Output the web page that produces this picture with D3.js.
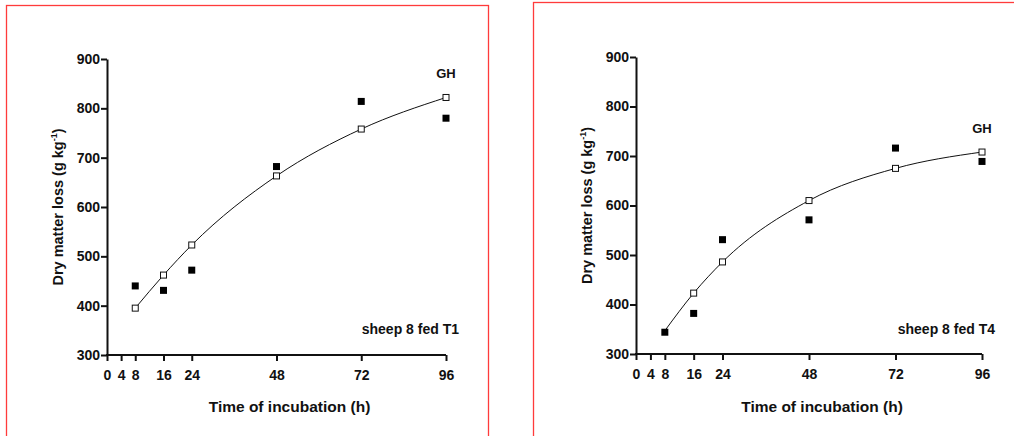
<!DOCTYPE html>
<html>
<head>
<meta charset="utf-8">
<script src="https://cdn.jsdelivr.net/npm/d3@7"></script>
<style>
  body { margin: 0; background: #fff; }
  svg { display: block; }
  text { font-family: "Liberation Sans", Arial, sans-serif; font-weight: bold; fill: #111; }
</style>
</head>
<body>
<svg id="chart" width="1014" height="436"></svg>
<script>
// incubation times (h)
const times = [8, 16, 24, 48, 72, 96];
const xTicks = [0, 4, 8, 16, 24, 48, 72, 96];
const yTicks = [300, 400, 500, 600, 700, 800, 900];

// sheep 8 fed T1
const t1Observed = [440, 431, 472, 682, 814, 780];
const t1Fitted = [395, 462, 523, 663, 758, 822];
// sheep 8 fed T4
const t4Observed = [344, 382, 531, 571, 716, 689];
const t4Fitted = [347, 423, 486, 610, 675, 708];

const panels = [
    { label: "sheep 8 fed T1", observed: t1Observed, fitted: t1Fitted,
      frame: [6, 5, 482], x0: 107, x1: 446, y0: 355, y1: 59 },
    { label: "sheep 8 fed T4", observed: t4Observed, fitted: t4Fitted,
      frame: [533, 2, 500], x0: 636, x1: 982, y0: 354, y1: 57 }
];

const svg = d3.select("#chart");

panels.forEach(p => {
    // red frame round each panel
    svg.append("rect")
        .attr("x", p.frame[0] + 0.5)
        .attr("y", p.frame[1] + 0.5)
        .attr("width", p.frame[2])
        .attr("height", 500)
        .attr("fill", "none")
        .attr("stroke", "#ff3b3b")
        .attr("stroke-width", 1.3);

    const x = d3.scaleLinear().domain([0, 96]).range([p.x0, p.x1]);
    const y = d3.scaleLinear().domain([300, 900]).range([p.y0, p.y1]);

    const g = svg.append("g");

    const xAxis = g.append("g")
        .attr("transform", "translate(0," + p.y0 + ")")
        .call(d3.axisBottom(x).tickValues(xTicks).tickSize(6).tickPadding(9).tickSizeOuter(0));
    const yAxis = g.append("g")
        .attr("transform", "translate(" + p.x0 + ",0)")
        .call(d3.axisLeft(y).tickValues(yTicks).tickSize(6).tickPadding(1).tickSizeOuter(0));

    [xAxis, yAxis].forEach(a => {
        a.select(".domain").attr("stroke", "#111").attr("stroke-width", 2);
        a.selectAll(".tick line").attr("stroke", "#111").attr("stroke-width", 2);
        a.selectAll(".tick text")
            .attr("font-size", 14)
            .attr("font-family", "Liberation Sans, Arial, sans-serif")
            .attr("font-weight", "bold")
            .attr("fill", "#111");
    });
    // extend the axis lines so they meet at the corner
    xAxis.select(".domain").attr("d", "M" + (p.x0 - 1) + ",0H" + p.x1);

    // fitted curve
    const line = d3.line()
        .x((d, i) => x(times[i]))
        .y(d => y(d))
        .curve(d3.curveMonotoneX);
    g.append("path")
        .datum(p.fitted)
        .attr("d", line)
        .attr("fill", "none")
        .attr("stroke", "#111")
        .attr("stroke-width", 1);

    // observed values (filled squares)
    g.selectAll(".obs")
        .data(p.observed)
        .enter().append("rect")
        .attr("x", (d, i) => x(times[i]) - 3.5)
        .attr("y", d => y(d) - 3.5)
        .attr("width", 7)
        .attr("height", 7)
        .attr("fill", "#000");

    // fitted values (open squares)
    g.selectAll(".fit")
        .data(p.fitted)
        .enter().append("rect")
        .attr("x", (d, i) => x(times[i]) - 3)
        .attr("y", d => y(d) - 3)
        .attr("width", 6)
        .attr("height", 6)
        .attr("fill", "#fff")
        .attr("stroke", "#111")
        .attr("stroke-width", 1)
        .style("display", (d, i) => (p === panels[1] && i === 0) ? "none" : null);

    // labels
    g.append("text")
        .attr("x", x(96))
        .attr("y", y(p.fitted[5]) - 19)
        .attr("text-anchor", "middle")
        .attr("font-size", 13)
        .text("GH");

    g.append("text")
        .attr("x", p.x1 + 13)
        .attr("y", 334)
        .attr("text-anchor", "end")
        .attr("font-size", 14)
        .text(p.label);

    g.append("text")
        .attr("x", (p.x0 + p.x1) / 2 + 13)
        .attr("y", 412)
        .attr("text-anchor", "middle")
        .attr("font-size", 15.5)
        .text("Time of incubation (h)");

    const yl = g.append("text")
        .attr("transform", "translate(" + (p.x0 - 44) + "," + ((p.y0 + p.y1) / 2) + ") rotate(-90)")
        .attr("text-anchor", "middle")
        .attr("font-size", 14.5);
    yl.append("tspan").text("Dry matter loss (g kg");
    yl.append("tspan").attr("font-size", 9).attr("dy", -6).text("-1");
    yl.append("tspan").attr("dy", 6).text(")");
});
</script>
</body>
</html>
